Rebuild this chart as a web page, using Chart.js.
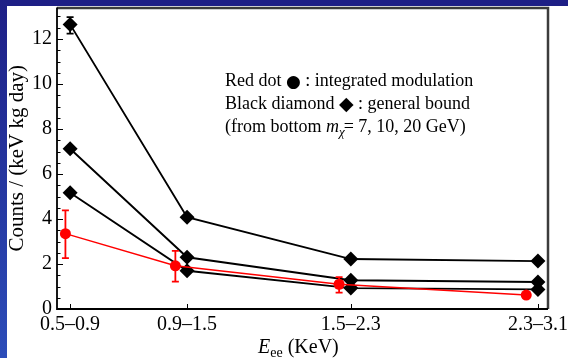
<!DOCTYPE html>
<html>
<head>
<meta charset="utf-8">
<title>Counts vs E_ee</title>
<script src="https://cdn.jsdelivr.net/npm/chart.js@4.4.1/dist/chart.umd.min.js"></script>
<style>
    html, body { margin: 0; padding: 0; background: #fff; }
    .wrap { position: relative; width: 568px; height: 358px; overflow: hidden; background: #fff; }
    .band-top { position: absolute; left: 0; top: 0; width: 568px; height: 6px; background: #1e1f86; }
    .band-left { position: absolute; left: 0; top: 0; width: 7px; height: 358px; background: linear-gradient(#1e1f86, #2c4db9); }
    canvas { position: absolute; left: 0; top: 0; }
</style>
</head>
<body>
<div class="wrap">
    <div class="band-top"></div>
    <div class="band-left"></div>
    <canvas id="countsChart" width="568" height="358"></canvas>
</div>
<script>
// bins in E_ee (KeV)
const categories = ['0.5\u20130.9', '0.9\u20131.5', '1.5\u20132.3', '2.3\u20133.1'];
const binCenters = [0.7, 1.2, 1.9, 2.7];
const modulationX = [0.68, 1.15, 1.85, 2.65];

// red dots: integrated modulation (with error bars)
const modulation = [3.35, 1.92, 1.1, 0.62];
const modulationLow = [2.26, 1.22, 0.73, 0.58];
const modulationHigh = [4.38, 2.58, 1.42, 0.66];

// black diamonds: general bound, m_chi = 7, 10, 20 GeV
const bound7 = [5.17, 1.7, 0.93, 0.87];
const bound10 = [7.12, 2.3, 1.28, 1.2];
const bound20 = [12.65, 4.08, 2.22, 2.13];
const bound20Low = [12.24, null, null, null];
const bound20High = [12.97, null, null, null];

const yMajorTicks = [0, 2, 4, 6, 8, 10, 12];

const serif = '"Liberation Serif", "Times New Roman", serif';

function toPoints(xs, ys) {
    return xs.map(function(x, i) { return { x: x, y: ys[i] }; });
}

const errorBars = {
    id: 'errorBars',
    afterDatasetsDraw: function(chart) {
        const ctx = chart.ctx;
        const xs = chart.scales.x;
        const ys = chart.scales.y;
        function bars(xVals, lows, highs, color) {
            ctx.save();
            ctx.strokeStyle = color;
            ctx.lineWidth = 1.8;
            xVals.forEach(function(x, i) {
                if (lows[i] == null) return;
                const px = xs.getPixelForValue(x);
                const y1 = ys.getPixelForValue(lows[i]);
                const y2 = ys.getPixelForValue(highs[i]);
                ctx.beginPath();
                ctx.moveTo(px, y1); ctx.lineTo(px, y2);
                ctx.moveTo(px - 3.5, y1); ctx.lineTo(px + 3.5, y1);
                ctx.moveTo(px - 3.5, y2); ctx.lineTo(px + 3.5, y2);
                ctx.stroke();
            });
            ctx.restore();
        }
        bars(modulationX, modulationLow, modulationHigh, '#ff0000');
        bars(binCenters, bound20Low, bound20High, '#000000');
    }
};

const frameAndText = {
    id: 'frameAndText',
    afterDraw: function(chart) {
        const ctx = chart.ctx;
        const a = chart.chartArea;
        const xs = chart.scales.x;
        const ys = chart.scales.y;
        ctx.save();

        // top and right frame
        ctx.strokeStyle = '#3c3c3c';
        ctx.lineWidth = 2.5;
        ctx.beginPath();
        ctx.moveTo(a.left, a.top + 0.5);
        ctx.lineTo(a.right, a.top + 0.5);
        ctx.lineTo(a.right, a.bottom);
        ctx.stroke();

        // left and bottom axes
        ctx.strokeStyle = '#000';
        ctx.lineWidth = 1.8;
        ctx.beginPath();
        ctx.moveTo(a.left, a.top);
        ctx.lineTo(a.left, a.bottom);
        ctx.lineTo(a.right, a.bottom);
        ctx.stroke();

        // inward ticks
        ctx.lineWidth = 1;
        ctx.beginPath();
        for (let v = 0; v <= 13; v += 0.5) {
            const py = Math.round(ys.getPixelForValue(v)) + 0.5;
            const len = yMajorTicks.indexOf(v) >= 0 ? 6 : 3.5;
            ctx.moveTo(a.left, py);
            ctx.lineTo(a.left + len, py);
        }
        binCenters.forEach(function(x) {
            const px = Math.round(xs.getPixelForValue(x)) + 0.5;
            ctx.moveTo(px, a.bottom);
            ctx.lineTo(px, a.bottom - 5);
        });
        ctx.stroke();

        // annotation text
        ctx.fillStyle = '#000';
        ctx.textBaseline = 'alphabetic';
        ctx.textAlign = 'left';
        function run(pieces, x, y) {
            pieces.forEach(function(p) {
                ctx.font = p[1];
                ctx.fillText(p[0], x, y + (p[2] || 0));
                x += ctx.measureText(p[0]).width + (p[3] || 0);
            });
        }
        const f18 = '18px ' + serif;
        run([['Red dot ', f18], ['\u25CF', '17px "DejaVu Sans"', 1], [' : integrated modulation', f18]], 225, 86);
        run([['Black diamond ', f18], ['\u25C6', '19px "DejaVu Sans"', 1], [' : general bound', f18]], 225, 109);
        run([['(from bottom ', f18], ['m', 'italic 18px ' + serif], ['\u03C7', 'italic 13px ' + serif, 4, -1], ['= 7, 10, 20 GeV)', f18]], 225, 132);

        // x axis title
        run([['E', 'italic 20px ' + serif], ['ee', '14px ' + serif, 4], [' (KeV)', '20px ' + serif]], 258, 353);

        ctx.restore();
    }
};

const ctx = document.getElementById('countsChart').getContext('2d');
const countsChart = new Chart(ctx, {
    type: 'line',
    data: {
        datasets: [{
            label: 'integrated modulation',
            data: toPoints(modulationX, modulation),
            borderColor: '#ff0000',
            backgroundColor: '#ff0000',
            borderWidth: 1.5,
            pointStyle: 'circle',
            pointRadius: 5.5,
            pointBorderWidth: 0,
            pointBackgroundColor: '#ff0000'
        }, {
            label: 'general bound 7 GeV',
            data: toPoints(binCenters, bound7),
            borderColor: '#000',
            borderWidth: 1.9,
            pointStyle: 'rectRot',
            pointRadius: 7.5,
            pointBorderWidth: 0,
            pointBackgroundColor: '#000'
        }, {
            label: 'general bound 10 GeV',
            data: toPoints(binCenters, bound10),
            borderColor: '#000',
            borderWidth: 1.9,
            pointStyle: 'rectRot',
            pointRadius: 7.5,
            pointBorderWidth: 0,
            pointBackgroundColor: '#000'
        }, {
            label: 'general bound 20 GeV',
            data: toPoints(binCenters, bound20),
            borderColor: '#000',
            borderWidth: 1.9,
            pointStyle: 'rectRot',
            pointRadius: 7.5,
            pointBorderWidth: 0,
            pointBackgroundColor: '#000'
        }]
    },
    options: {
        responsive: false,
        animation: false,
        layout: {
            padding: { top: 6, right: 20, left: 0, bottom: 0 }
        },
        plugins: {
            legend: { display: false },
            tooltip: { enabled: false }
        },
        scales: {
            x: {
                type: 'linear',
                min: 0.644,
                max: 2.743,
                grid: { display: false, drawTicks: false },
                border: { display: false },
                afterBuildTicks: function(scale) {
                    scale.ticks = binCenters.map(function(v) { return { value: v }; });
                },
                afterFit: function(scale) {
                    scale.height = 49;
                    scale.paddingLeft = 0;
                    scale.paddingRight = 0;
                },
                ticks: {
                    autoSkip: false,
                    maxRotation: 0,
                    padding: 4,
                    color: '#000',
                    font: { family: serif, size: 20 },
                    callback: function(value) {
                        const i = binCenters.indexOf(value);
                        return i >= 0 ? categories[i] : '';
                    }
                }
            },
            y: {
                min: 0,
                max: 13.4,
                grid: { display: false, drawTicks: false },
                border: { display: false },
                afterFit: function(scale) {
                    scale.width = 57;
                    scale.paddingTop = 0;
                    scale.paddingBottom = 0;
                },
                ticks: {
                    stepSize: 2,
                    includeBounds: false,
                    padding: 5,
                    color: '#000',
                    font: { family: serif, size: 20 }
                },
                title: {
                    display: true,
                    text: 'Counts / (keV kg day)',
                    color: '#000',
                    font: { family: serif, size: 21 },
                    padding: { top: 5, bottom: 0 }
                }
            }
        }
    },
    plugins: [errorBars, frameAndText]
});
</script>
</body>
</html>
